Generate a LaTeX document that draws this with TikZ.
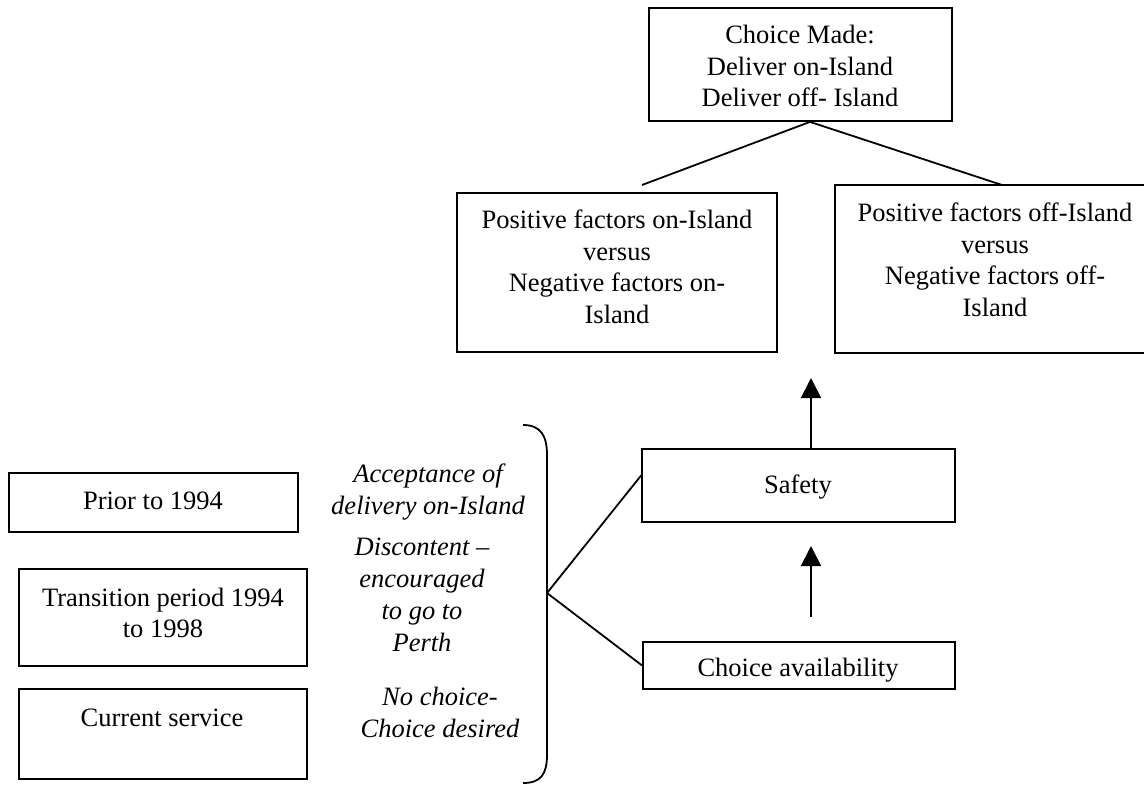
\documentclass[tikz,border=0pt]{standalone}
\usepackage{fontspec}
\setmainfont{Liberation Serif}
\usetikzlibrary{arrows.meta,fit}
\begin{document}
\begin{tikzpicture}[x=1pt,y=-1pt,
  box/.style={draw, line width=1.8pt, inner sep=0pt},
  lbl/.style={inner sep=0pt, align=center, font=\fontsize{26.5}{31.5}\selectfont},
  ilbl/.style={inner sep=0pt, align=center, font=\fontsize{26.5}{32}\selectfont\itshape},
  link/.style={line width=1.8pt},
  arr/.style={line width=1.8pt, -{Triangle[width=20pt,length=20pt]}}]
\fill[white] (0,0) rectangle (1144,785);
\useasboundingbox (0,0) rectangle (1144,785);

% boxes
\node[box, fit={(649,8) (952,121)}] (top) {};
\node[box, fit={(457,193) (777,352)}] (poson) {};
\node[box, fit={(835,185) (1160,353)}] (posoff) {};
\node[box, fit={(642,449) (955,522)}] (safety) {};
\node[box, fit={(643,642) (955,689)}] (choice) {};
\node[box, fit={(9,473) (298,532)}] (prior) {};
\node[box, fit={(19,569) (307,666)}] (trans) {};
\node[box, fit={(19,689) (307,779)}] (curr) {};

% box texts
\node[lbl] (topt) at (800,66) {Choice Made:\\Deliver on-Island\\Deliver off- Island};
\node[lbl] (posont) at (617,267) {Positive factors on-Island\\versus\\Negative factors on-\\Island};
\node[lbl] (posofft) at (995,260) {Positive factors off-Island\\versus\\Negative factors off-\\Island};
\node[lbl] (safetyt) at (798,487) {Safety};
\node[lbl] (choicet) at (798,670) {Choice availability};
\node[lbl] (priort) at (153,501) {Prior to 1994};
\node[lbl] (transt) at (163,613) {Transition period 1994\\to 1998};
\node[lbl] (currt) at (162,718) {Current service};

% italic texts
\node[ilbl] (acc) at (428,492) {Acceptance of\\delivery on-Island};
\node[ilbl] (disc) at (422,595) {Discontent --\\encouraged\\to go to\\Perth};
\node[ilbl] (noch) at (440,712) {No choice-\\Choice desired};

% brace
\coordinate (bracetip) at (547,593);
\draw[link] (523,425) .. controls (541,425) and (547,436) .. (547,455)
  -- (bracetip) -- (547,755) .. controls (547,774) and (541,783) .. (523,783);

% connectors
\coordinate (lend) at (642,185);
\coordinate (rend) at (1002,185);
\coordinate (a1e) at (811,378);
\coordinate (a2s) at (811,617);
\coordinate (a2e) at (811,546);
\draw[link] (lend) -- ([xshift=9.5pt]top.south) -- (rend);
\draw[link] (bracetip) -- ([yshift=10pt]safety.west);
\draw[link] (bracetip) -- (choice.west);
\draw[arr] (a1e |- safety.north) -- (a1e);
\draw[arr] (a2s) -- (a2e);
\end{tikzpicture}
\end{document}
